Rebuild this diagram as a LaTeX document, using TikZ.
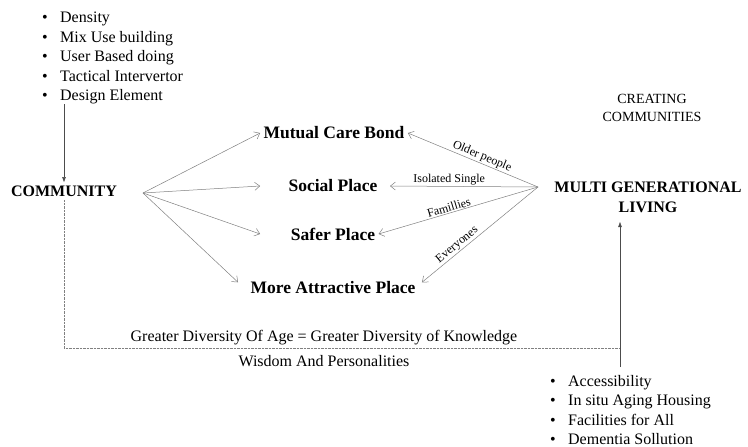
\documentclass[tikz,border=0pt]{standalone}
\usepackage{fontspec}
\setmainfont{Liberation Serif}
\usetikzlibrary{arrows.meta}
\newcommand{\bitem}{\makebox[18pt][l]{\textbullet}}
\begin{document}
\begin{tikzpicture}[x=1pt,y=1pt,
  list/.style={font=\fontsize{16}{19.5}\selectfont, align=left, inner sep=0pt, anchor=north west},
  place/.style={font=\fontsize{17.5}{20}\selectfont\bfseries},
  hub/.style={font=\fontsize{16}{20}\selectfont\bfseries, align=center},
  lbl/.style={font=\fontsize{12}{14}\selectfont, inner sep=1pt},
  note/.style={font=\fontsize{16}{19}\selectfont, inner sep=0pt},
  arr/.style={draw=gray, line width=0.5pt, -{Straight Barb[length=5pt,width=8pt]}},
  uparr/.style={draw=black!70, line width=0.5pt, -{Triangle[length=5pt,width=3.5pt]}}]
  \useasboundingbox (0,0) rectangle (748,-447);
  % lists
  \node[list] (tops) at (42,-12) {\bitem Density\\ \bitem Mix Use building\\ \bitem User Based doing\\ \bitem Tactical Intervertor\\ \bitem Design Element};
  \node[list] (bottom) at (550,-375) {\bitem Accessibility\\ \bitem In situ Aging Housing\\ \bitem Facilities for All\\ \bitem Dementia Sollution};
  % main nodes
  \node[hub] (comm) at (64,-191) {COMMUNITY};
  \node[hub] (multi) at (648,-197) {MULTI GENERATIONAL\\LIVING};
  \node[font=\fontsize{14}{18}\selectfont, align=center] (create) at (652,-108) {CREATING\\COMMUNITIES};
  \node[place] (bond) at (334,-133) {Mutual Care Bond};
  \node[place] (social) at (333,-186) {Social Place};
  \node[place] (safer) at (333,-234) {Safer Place};
  \node[place] (attr) at (333,-288) {More Attractive Place};
  \node[note] (div1) at (324,-338) {Greater Diversity Of Age = Greater Diversity of Knowledge};
  \node[note] (div2) at (324,-361) {Wisdom And Personalities};
  \coordinate (hubL) at (143,-193);
  \coordinate (hubR) at (538,-187);
  \coordinate (liv) at (620,-222);
  \coordinate (corner) at (620,-348);
  % arrows
  \draw[uparr] (comm.north |- tops.south) -- (comm.north);
  \draw[uparr] ([yshift=8pt]bottom.north -| liv) -- (liv);
  \draw[gray, densely dotted] (comm.south) |- (corner);
  \draw[arr] (hubL) -- (bond.west);
  \draw[arr] (hubL) -- (social.west -| bond.west);
  \draw[arr] (hubL) -- (safer.west -| bond.west);
  \draw[arr] (hubL) -- ([xshift=-9pt,yshift=-4pt]attr.north west);
  \draw[arr] (hubR) -- node[lbl, sloped, above, pos=0.45] {Older people} (bond.east);
  \draw[arr] (hubR) -- node[lbl, above, pos=0.6] {Isolated Single} ([xshift=9pt]social.east);
  \draw[arr] (hubR) -- node[lbl, sloped, above, pos=0.55] {Famillies} (safer.east);
  \draw[arr] (hubR) -- node[lbl, sloped, above, pos=0.66] {Everyones} ([xshift=3pt,yshift=-4pt]attr.north east);
\end{tikzpicture}
\end{document}
